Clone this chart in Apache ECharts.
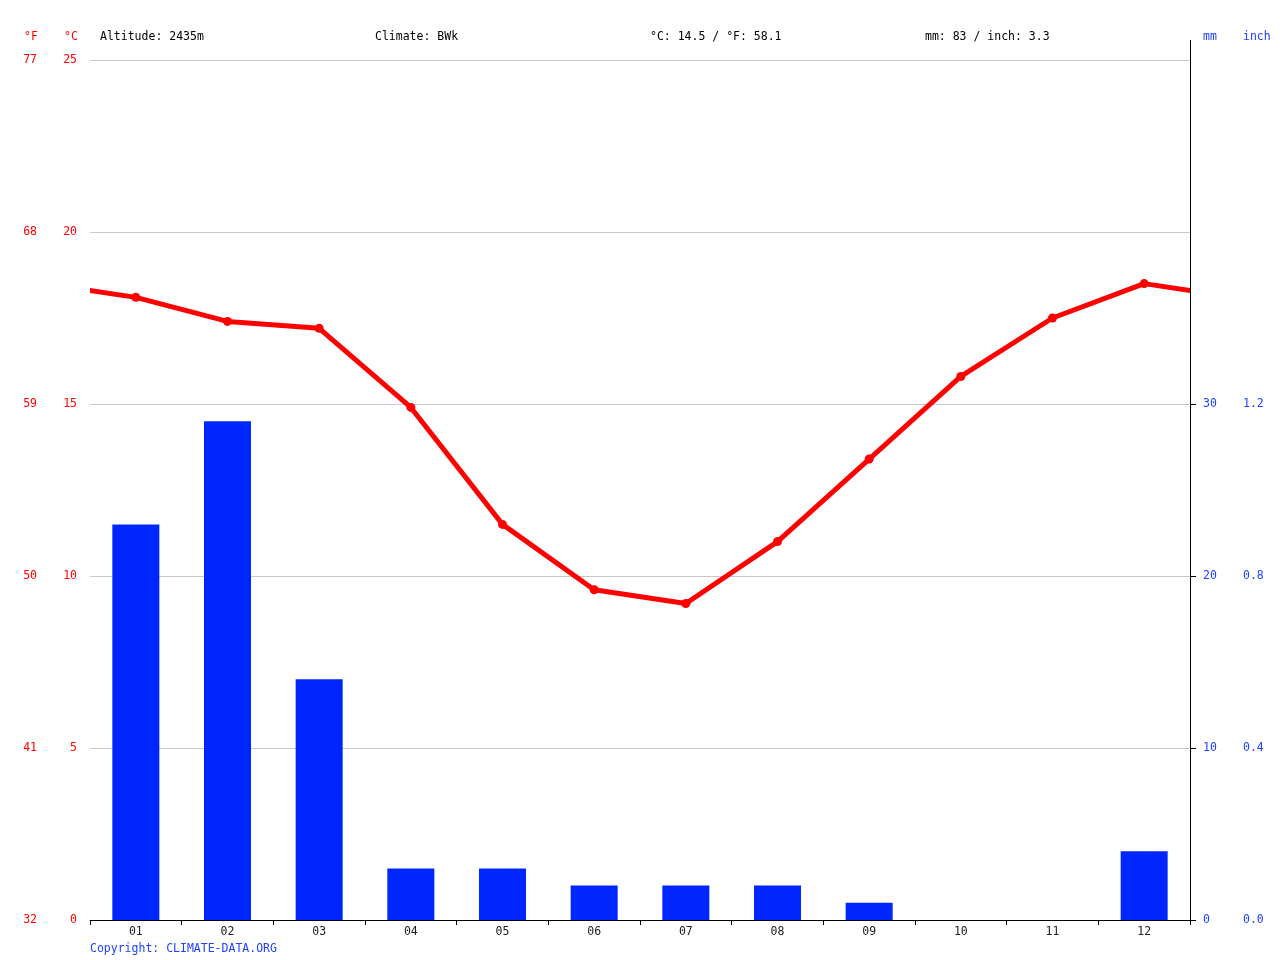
<!DOCTYPE html>
<html><head><meta charset="utf-8">
<script src="https://cdn.jsdelivr.net/npm/echarts@6/dist/echarts.min.js"></script>
<style>html,body{margin:0;padding:0;background:#fff}#c{width:1280px;height:960px}</style>
</head><body><div id="c"></div>
<script>
const months = ['01','02','03','04','05','06','07','08','09','10','11','12'];
const tempC = [18.1, 17.4, 17.2, 14.9, 11.5, 9.6, 9.2, 11.0, 13.4, 15.8, 17.5, 18.5];
const precipMm = [23, 29, 14, 3, 3, 2, 2, 2, 1, 0, 0, 4];
const tempTicksC = [0, 5, 10, 15, 20, 25];
const precipTicksMm = [0, 10, 20, 30];
const headerTexts = ['Altitude: 2435m', 'Climate: BWk', '°C: 14.5 / °F: 58.1', 'mm: 83 / inch: 3.3'];

const FONT = '"DejaVu Sans Mono", monospace';
const FS = 11.5;
const RED = '#ff0000';
const BLUE = '#0026ff';
const TXTBLUE = '#2040ff';
const LW = 5;

// plot geometry
const GL = 90, GR = 90, GT = 60, GB = 40, W = 1280;
const unitPx = (W - GL - GR) / months.length;
const inset = LW / 2; // line grid inset so that its clip (expanded by half the line width) ends at the plot edge
const lineXMin = 0.5 + inset / unitPx;
const lineXMax = months.length + 0.5 - inset / unitPx;

// wrap-around line: December before January and January after December, clipped at the plot edges
const linePts = [[0, tempC[11]]].concat(tempC.map((v, i) => [i + 1, v])).concat([[13, tempC[0]]]);

const chart = echarts.init(document.getElementById('c'), null, {renderer: 'canvas'});
chart.setOption({
  animation: false,
  backgroundColor: '#fff',
  textStyle: {fontFamily: FONT, fontSize: FS},
  grid: [
    {left: GL, right: GR, top: GT, bottom: GB, containLabel: false},
    {left: GL + inset, right: GR + inset, top: GT, bottom: GB, containLabel: false}
  ],
  xAxis: [
    {type: 'category', data: months, boundaryGap: true, gridIndex: 0,
     axisLine: {lineStyle: {color: '#000', width: 1}},
     axisTick: {show: true, length: 5, lineStyle: {color: '#000'}},
     axisLabel: {color: '#222', fontFamily: FONT, fontSize: FS, margin: 6},
     splitLine: {show: false}},
    {type: 'value', min: lineXMin, max: lineXMax, show: false, gridIndex: 1}
  ],
  yAxis: [
    {type: 'value', min: 0, max: 25, interval: 5, position: 'left', gridIndex: 0,
     axisLine: {show: false}, axisTick: {show: false},
     axisLabel: {color: RED, fontFamily: FONT, fontSize: FS, margin: 13},
     splitLine: {show: true, lineStyle: {color: '#c8c8c8', width: 1}}},
    {type: 'value', min: 0, max: 25, interval: 5, position: 'left', offset: 40, gridIndex: 0,
     axisLine: {show: false}, axisTick: {show: false},
     axisLabel: {color: RED, fontFamily: FONT, fontSize: FS, margin: 13,
       formatter: v => String(Math.round(v * 9 / 5 + 32))},
     splitLine: {show: false}},
    {type: 'value', min: 0, max: 50, interval: 10, position: 'right', gridIndex: 0,
     axisLine: {show: true, lineStyle: {color: '#000', width: 1}},
     axisTick: {show: true, length: 6, lineStyle: {color: '#000'}, customValues: precipTicksMm},
     axisLabel: {color: TXTBLUE, fontFamily: FONT, fontSize: FS, margin: 13, customValues: precipTicksMm},
     splitLine: {show: false}},
    {type: 'value', min: 0, max: 50, interval: 10, position: 'right', offset: 40, gridIndex: 0,
     axisLine: {show: false}, axisTick: {show: false},
     axisLabel: {color: TXTBLUE, fontFamily: FONT, fontSize: FS, margin: 13, customValues: precipTicksMm,
       formatter: v => (v / 25.4).toFixed(1)},
     splitLine: {show: false}},
    {type: 'value', min: 0, max: 25, show: false, gridIndex: 1}
  ],
  series: [
    {type: 'bar', xAxisIndex: 0, yAxisIndex: 2, data: precipMm, barWidth: 47,
     itemStyle: {color: BLUE}, z: 2},
    {type: 'line', xAxisIndex: 1, yAxisIndex: 4, data: linePts, clip: true,
     symbol: 'circle', symbolSize: 9, showAllSymbol: true,
     lineStyle: {color: RED, width: LW}, itemStyle: {color: RED}, z: 3}
  ],
  graphic: [
    {type: 'line', shape: {x1: 1190.5, y1: 40, x2: 1190.5, y2: 60}, style: {stroke: '#000', lineWidth: 1}},
    {type: 'text', left: 24, top: 31, style: {text: '°F', fill: RED, font: FS + 'px ' + FONT}},
    {type: 'text', left: 64, top: 31, style: {text: '°C', fill: RED, font: FS + 'px ' + FONT}},
    {type: 'text', left: 100, top: 31, style: {text: headerTexts[0], fill: '#000', font: FS + 'px ' + FONT}},
    {type: 'text', left: 375, top: 31, style: {text: headerTexts[1], fill: '#000', font: FS + 'px ' + FONT}},
    {type: 'text', left: 650, top: 31, style: {text: headerTexts[2], fill: '#000', font: FS + 'px ' + FONT}},
    {type: 'text', left: 925, top: 31, style: {text: headerTexts[3], fill: '#000', font: FS + 'px ' + FONT}},
    {type: 'text', left: 1203, top: 31, style: {text: 'mm', fill: TXTBLUE, font: FS + 'px ' + FONT}},
    {type: 'text', left: 1243, top: 31, style: {text: 'inch', fill: TXTBLUE, font: FS + 'px ' + FONT}},
    {type: 'text', left: 90, top: 943, style: {text: 'Copyright: CLIMATE-DATA.ORG', fill: TXTBLUE, font: FS + 'px ' + FONT}}
  ]
});
</script></body></html>
